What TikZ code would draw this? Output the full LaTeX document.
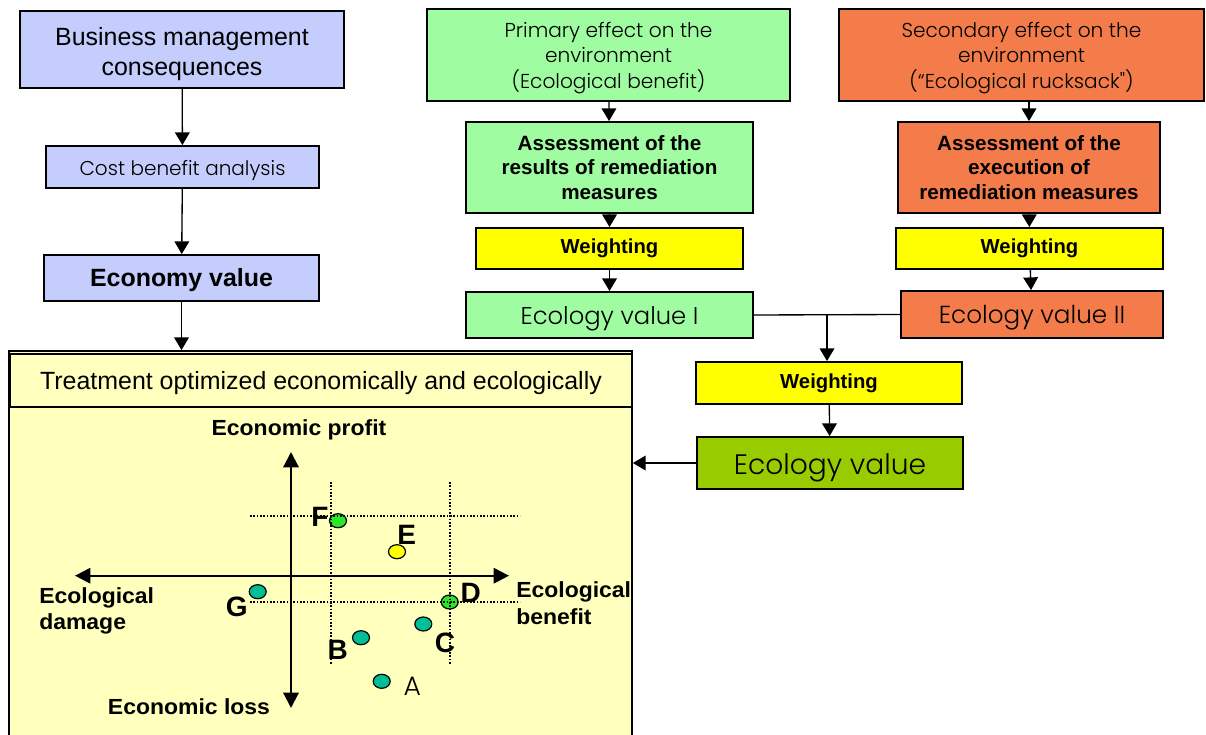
\documentclass[tikz,border=0pt]{standalone}
\usepackage{fontspec}
\setmainfont{Liberation Sans}
\newfontfamily\lightf{Poppins Light}
\newfontfamily\condf{Liberation Sans}[FakeStretch=1.05]
\usetikzlibrary{arrows.meta,shapes.geometric,fit}
\definecolor{bluebox}{RGB}{196,205,252}
\definecolor{lgreen}{RGB}{160,252,160}
\definecolor{orng}{RGB}{243,124,74}
\definecolor{yel}{RGB}{255,255,0}
\definecolor{olivebox}{RGB}{153,204,0}
\definecolor{pale}{RGB}{255,255,190}
\definecolor{tealpt}{RGB}{0,190,150}
\definecolor{limept}{RGB}{40,232,40}
\newcommand{\lowtxt}[2]{\raisebox{#1}[\height][\depth]{\begin{tabular}{@{}c@{}}#2\end{tabular}}}
\begin{document}
\begin{tikzpicture}[x=0.75pt,y=-0.75pt,
  box/.style={draw=black, line width=1.4pt, inner sep=0pt, align=center},
  wh/.style 2 args={minimum width=#1*0.75pt, minimum height=#2*0.75pt},
  arr/.style={line width=1pt, -{Triangle[length=9.5pt,width=11pt]}},
  axisln/.style={line width=1.6pt, {Triangle[length=11.5pt,width=11.5pt]}-{Triangle[length=11.5pt,width=11.5pt]}},
  dotln/.style={line width=1.3pt, dash pattern=on 1.3pt off 1.2pt},
  pt/.style={ellipse, draw=black, line width=0.9pt, minimum width=12.75pt, minimum height=10.5pt, inner sep=0pt},
  lbl/.style={font=\bfseries\fontsize{21}{23}\selectfont, inner sep=0pt},
  axlbl/.style={font=\condf\bfseries\fontsize{16.4}{20}\selectfont, inner sep=0pt, align=left},
]
\useasboundingbox (0,0) rectangle (1206,735);

% left column
\node[box, fill=bluebox, wh={324}{77}, font=\fontsize{18.7}{22.5}\selectfont] (bm) at (182,49.5) {\lowtxt{-3.5pt}{Business management\\consequences}};
\node[box, fill=bluebox, wh={273}{42}, font=\lightf\fontsize{15}{18}\selectfont] (cba) at (182.5,167) {\lowtxt{-2.5pt}{Cost benefit analysis}};
\node[box, fill=bluebox, wh={275}{46}, font=\bfseries\fontsize{18.7}{22}\selectfont] (ecv) at (181.5,278) {\lowtxt{-2pt}{Economy value}};

% green column
\node[box, fill=lgreen, wh={363}{92}, font=\lightf\fontsize{15.1}{18.75}\selectfont] (pe) at (608.5,55) {\lowtxt{-2.5pt}{Primary effect on the\\environment\\(Ecological benefit)}};
\node[box, fill=lgreen, wh={287}{91}, font=\bfseries\fontsize{15.5}{18.4}\selectfont] (ar) at (609.5,167.5) {Assessment of the\\results of remediation\\measures};
\node[box, fill=yel, wh={267}{41}, font=\bfseries\fontsize{15.2}{18}\selectfont] (w1) at (609.5,248.5) {Weighting};
\node[box, fill=lgreen, wh={287}{46}, font=\lightf\fontsize{18.2}{22}\selectfont] (ev1) at (609.5,315) {\lowtxt{-2.5pt}{Ecology value I}};

% orange column
\node[box, fill=orng, wh={365}{92}, font=\lightf\fontsize{15.1}{18.75}\selectfont] (se) at (1021.5,55) {\lowtxt{-2.5pt}{Secondary effect on the\\environment\\(“Ecological rucksack")}};
\node[box, fill=orng, wh={262}{91}, font=\bfseries\fontsize{15.5}{18.4}\selectfont] (ae) at (1029,167.5) {Assessment of the\\execution of\\remediation measures};
\node[box, fill=yel, wh={267}{41}, font=\bfseries\fontsize{15.2}{18}\selectfont] (w2) at (1029.5,248.5) {Weighting};
\node[box, fill=orng, wh={262}{47}, font=\lightf\fontsize{18.5}{22}\selectfont] (ev2) at (1032,314.5) {\lowtxt{-2.5pt}{Ecology value II}};

% combined
\node[box, fill=yel, wh={266}{42}, font=\bfseries\fontsize{15.2}{18}\selectfont] (w3) at (829,383) {Weighting};
\node[box, fill=olivebox, wh={266}{52}, font=\lightf\fontsize{21.1}{24}\selectfont] (ev) at (830,463) {\lowtxt{-3.5pt}{Ecology value}};

% treatment box
\node[box, fill=pale, fit={(9,351) (632,745)}] (tbox) {};
\node[box, fill=pale, line width=1.1pt, wh={621}{53}, font=\fontsize{18.7}{22}\selectfont] (hdr) at (321,380.5) {\lowtxt{-2pt}{Treatment optimized economically and ecologically}};

% connectors
\draw[arr] (bm) -- (cba);
\draw[arr] (cba) -- (ecv);
\draw[arr] (ecv.south) -- (ecv.south |- tbox.north);
\draw[arr] (pe) -- (ar);
\draw[arr] (ar) -- (w1);
\draw[arr] (w1) -- (ev1);
\draw[arr] (ae.north |- se.south) -- (ae.north);
\draw[arr] (ae) -- (w2);
\draw[arr] (w2) -- (ev2);
\draw[line width=1pt] (ev1.east) -- (ev2.west);
\coordinate (j) at (827,315);
\draw[arr] (j) -- (j |- w3.north);
\draw[arr] (w3) -- (ev);
\draw[arr] (ev.west) -- (tbox.east |- ev.west);

% chart
\coordinate (vt) at (291,452);
\coordinate (vb) at (291,708);
\coordinate (hl) at (75,575.7);
\coordinate (hr) at (509,575.7);
\draw[axisln] (vb) -- (vt);
\draw[axisln] (hl) -- (hr);

\node[pt, fill=limept] (F) at (338,520.7) {};
\node[pt, fill=yel] (E) at (397,551.7) {};
\node[pt, fill=tealpt] (G) at (257.7,591.7) {};
\node[pt, fill=limept] (D) at (449.7,602) {};
\node[pt, fill=tealpt] (C) at (423.3,624) {};
\node[pt, fill=tealpt] (B) at (361,637.7) {};
\node[pt, fill=tealpt] (A) at (381.7,681.3) {};

\coordinate (d1t) at (331,482);
\coordinate (d1b) at (331,665);
\coordinate (d2t) at (450,482);
\coordinate (d2b) at (450,665);
\coordinate (h1l) at (250,515.7);
\coordinate (h1r) at (520,515.7);
\coordinate (h2l) at (250,602.3);
\coordinate (h2r) at (520,602.3);
\draw[dotln] (d1t) -- (d1b);
\draw[dotln] (d2t) -- (d2b);
\draw[dotln] (h1l) -- (h1r);
\draw[dotln] (h2l) -- (h2r);

\node[lbl] (Fl) at (320,516.7) {F};
\node[lbl] (El) at (406.7,535) {E};
\node[lbl] (Gl) at (236.7,606.7) {G};
\node[lbl] (Dl) at (470.7,592.7) {D};
\node[lbl] (Cl) at (445,643.3) {C};
\node[lbl] (Bl) at (337.7,650) {B};
\node[inner sep=0pt, font=\lightf\fontsize{20}{22}\selectfont] (Al) at (412.3,686.7) {A};

\node[axlbl] (prof) at (299,430) {Economic profit};
\node[axlbl] (loss) at (189,707) {Economic loss};
\node[axlbl, anchor=west] (dmg) at (39,611) {Ecological\\damage};
\node[axlbl, anchor=west] (ben) at (516,603.5) {Ecological\\benefit};
\end{tikzpicture}
\end{document}
